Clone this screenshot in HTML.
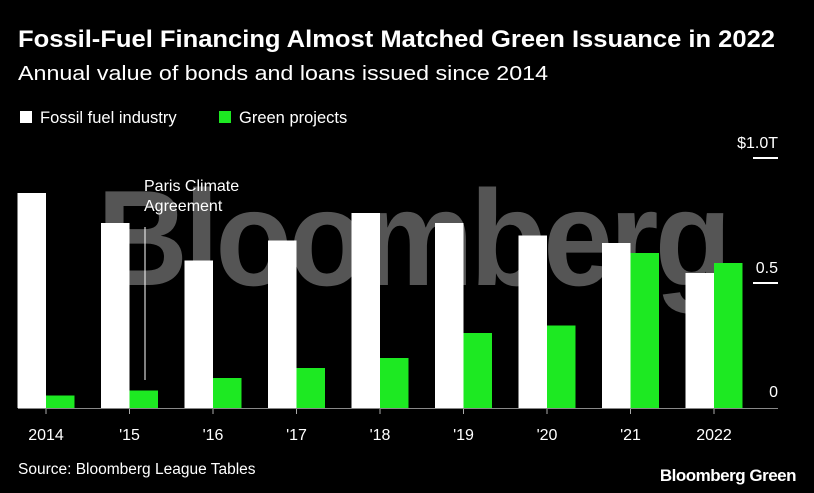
<!DOCTYPE html>
<html><head><meta charset="utf-8"><style>
html,body{margin:0;padding:0;background:#000;}
svg{display:block;font-family:"Liberation Sans",Arial,sans-serif;}
</style></head><body>
<svg id="chart" width="814" height="493" viewBox="0 0 814 493" xmlns="http://www.w3.org/2000/svg">
<rect width="814" height="493" fill="#000"/>
<text x="18" y="47" fill="#fff" font-size="24" font-weight="bold" textLength="757" lengthAdjust="spacingAndGlyphs">Fossil-Fuel Financing Almost Matched Green Issuance in 2022</text>
<text x="18" y="80" fill="#fff" font-size="20" textLength="530" lengthAdjust="spacingAndGlyphs">Annual value of bonds and loans issued since 2014</text>
<g>
<rect x="20" y="111" width="12" height="12" fill="#fff"/>
<text x="40" y="123" fill="#fff" font-size="16.5">Fossil fuel industry</text>
<rect x="219" y="111" width="12" height="12" fill="#1de922"/>
<text x="239" y="123" fill="#fff" font-size="16.5">Green projects</text>
</g>
<text x="97" y="285" fill="#555" font-size="136" font-weight="bold" letter-spacing="-4" textLength="631" lengthAdjust="spacingAndGlyphs">Bloomberg</text>
<g id="bars"></g>
<g id="axes"></g>
<line x1="145" y1="227" x2="145" y2="380" stroke="#fff" stroke-width="1"/>
<text x="144" y="191" fill="#fff" font-size="16">Paris Climate</text>
<text x="144" y="211" fill="#fff" font-size="16">Agreement</text>
<text x="18" y="474" fill="#fff" font-size="15.5">Source: Bloomberg League Tables</text>
<text x="796" y="481" text-anchor="end" fill="#fff" font-size="17" font-weight="bold" letter-spacing="-0.5">Bloomberg Green</text>
</svg>
<script>
const categories = ["2014","'15","'16","'17","'18","'19","'20","'21","2022"];
const fossilValues = [0.86,0.74,0.59,0.67,0.78,0.74,0.69,0.66,0.54];
const greenValues = [0.05,0.07,0.12,0.16,0.20,0.30,0.33,0.62,0.58];
const yTicks = [0,0.5,1.0];
const yTickLabels = ["0","0.5","$1.0T"];

const NS = "http://www.w3.org/2000/svg";
const baseY = 408, pxPerUnit = 250, x0 = 46, step = 83.5, bw = 28.5;
function yScale(v){ return baseY - v*pxPerUnit; }
function xScale(i){ return x0 + i*step; }
function mk(tag, attrs, parent){ const e=document.createElementNS(NS,tag); for(const k in attrs) e.setAttribute(k,attrs[k]); parent.appendChild(e); return e; }
const bars = document.getElementById('bars');
const axes = document.getElementById('axes');
categories.forEach((c,i)=>{
  const cx = xScale(i);
  const w = mk('rect',{x:cx-bw,y:yScale(fossilValues[i]),width:bw,height:baseY-yScale(fossilValues[i]),fill:'#fff'},bars);
  
  
  const g = mk('rect',{x:cx,y:yScale(greenValues[i]),width:bw,height:baseY-yScale(greenValues[i]),fill:'#1de922'},bars);
  
  
  const t = mk('line',{x1:cx,y1:baseY,x2:cx,y2:baseY+6,stroke:'#aaa','stroke-width':1},axes);
  
  
  const l = mk('text',{x:cx,y:baseY+32,fill:'#fff','font-size':16,'text-anchor':'middle'},axes);
  l.textContent = c;
  
  
});
const base = mk('line',{x1:18,y1:baseY+0.5,x2:778,y2:baseY+0.5,stroke:'#888','stroke-width':1},axes);


yTicks.forEach((v,i)=>{
  const y = yScale(v);
  if(v>0){
    const ln = mk('line',{x1:753,y1:y,x2:778,y2:y,stroke:'#fff','stroke-width':2},axes);
    
    
  }
  const tx = mk('text',{x:778,y:v>0?y-10:y-11,fill:'#fff','font-size':16,'text-anchor':'end'},axes);
  tx.textContent = yTickLabels[i];
  
  
});
</script>
</body></html>
